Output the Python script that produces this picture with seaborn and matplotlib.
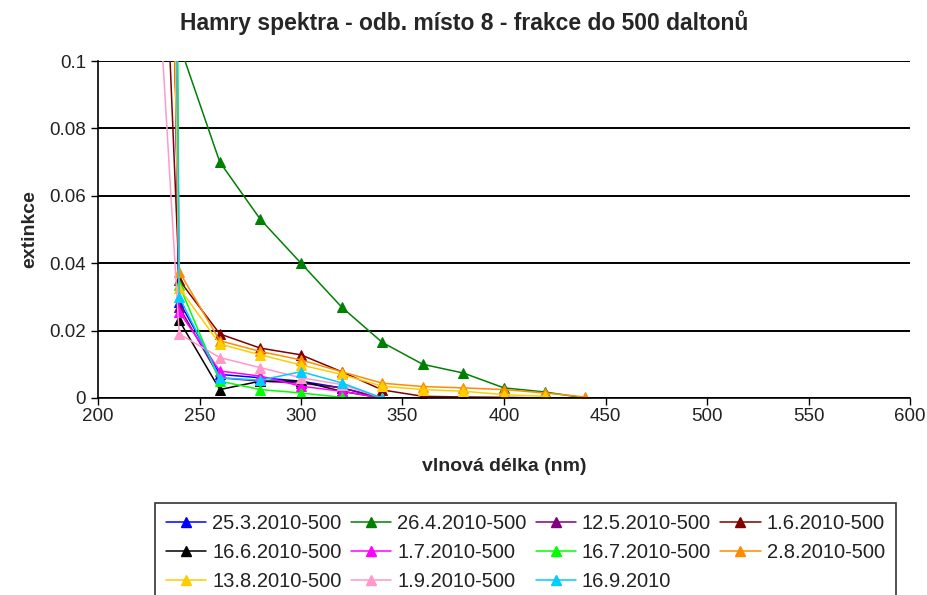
import numpy as np
import pandas as pd
import matplotlib
matplotlib.use('Agg')
import matplotlib.pyplot as plt
import seaborn as sns
from matplotlib.ticker import FuncFormatter, MultipleLocator

sns.set_theme(style="white")
plt.rcParams['font.family'] = ['Liberation Sans', 'DejaVu Sans']

# wavelength grid (nm); each series uses its first len(values) points
wavelengths = [230, 240, 260, 280, 300, 320, 340, 360, 380, 400, 420, 440]

labels = ["25.3.2010-500", "26.4.2010-500", "12.5.2010-500", "1.6.2010-500",
          "16.6.2010-500", "1.7.2010-500", "16.7.2010-500", "2.8.2010-500",
          "13.8.2010-500", "1.9.2010-500", "16.9.2010"]
colors = ["#0000FF", "#008000", "#800080", "#800000", "#000000", "#FF00FF",
          "#00FF00", "#FF8C00", "#FFCC00", "#FF99CC", "#00CCFF"]

s_25_3 = [0.40, 0.0286, 0.007, 0.006, 0.005, 0.003, 0.0]
s_26_4 = [0.50, 0.105, 0.070, 0.053, 0.040, 0.027, 0.0165, 0.010, 0.0074, 0.003, 0.0018, 0.0]
s_12_5 = [0.40, 0.027, 0.006, 0.005, 0.0044, 0.003, 0.0]
s_1_6 = [0.18, 0.035, 0.019, 0.0148, 0.0128, 0.0078, 0.0024, 0.0005, 0.0003, 0.0002, 0.0]
s_16_6 = [0.41, 0.023, 0.0025, 0.005, 0.005, 0.002, 0.0]
s_1_7 = [0.40, 0.0256, 0.008, 0.0065, 0.0035, 0.002, 0.0]
s_16_7 = [1.00, 0.0335, 0.005, 0.0025, 0.0015, 0.0002, 0.0]
s_2_8 = [0.60, 0.0375, 0.017, 0.0138, 0.0113, 0.0078, 0.0044, 0.0034, 0.003, 0.0025, 0.0015, 0.0003]
s_13_8 = [0.37, 0.0327, 0.016, 0.0128, 0.0098, 0.007, 0.0035, 0.0025, 0.002, 0.001, 0.0005]
s_1_9 = [0.12, 0.019, 0.012, 0.009, 0.006, 0.004, 0.0]
s_16_9 = [0.73, 0.030, 0.006, 0.0053, 0.0078, 0.0045, 0.0]

series = [s_25_3, s_26_4, s_12_5, s_1_6, s_16_6, s_1_7, s_16_7, s_2_8, s_13_8, s_1_9, s_16_9]

rows = []
for lab, vals in zip(labels, series):
    for wl, v in zip(wavelengths, vals):
        rows.append({"wl": wl, "ext": v, "serie": lab})
df = pd.DataFrame(rows)

fig = plt.figure(figsize=(9.28, 5.95), dpi=100)
ax = fig.add_axes([98 / 928, 1 - 398 / 595, (910 - 98) / 928, (398 - 61) / 595])

sns.lineplot(data=df, x="wl", y="ext", hue="serie", hue_order=labels,
             palette=colors, marker="^", markersize=7, linewidth=1.1,
             estimator=None, sort=False, ax=ax, legend=False)
for line in ax.lines:
    line.set_markeredgecolor(line.get_color())

ax.set_xlim(200, 600)
ax.set_ylim(0, 0.1)
ax.xaxis.set_major_locator(MultipleLocator(50))
ax.yaxis.set_major_locator(MultipleLocator(0.02))
ax.yaxis.set_major_formatter(FuncFormatter(lambda v, p: f"{v:g}" if abs(v) > 1e-9 else "0"))
ax.grid(axis='y', color='black', linewidth=1.4)
ax.grid(axis='x', visible=False)
for side in ['top', 'right']:
    ax.spines[side].set_visible(False)
for side in ['left', 'bottom']:
    ax.spines[side].set_color('black')
    ax.spines[side].set_linewidth(1.2)
ax.tick_params(axis='both', direction='out', length=5, width=1, color='black',
               labelsize=13.5, labelcolor='#222222', bottom=True, left=True)
ax.tick_params(axis='x', pad=2)

ax.set_xlabel("vlnová délka (nm)", fontsize=14, fontweight='bold', labelpad=24)
ax.set_ylabel("extinkce", fontsize=14, fontweight='bold', labelpad=8)
fig.text(0.5, 1 - 23 / 595, "Hamry spektra - odb. místo 8 - frakce do 500 daltonů",
         fontsize=16.5, fontweight='bold', ha='center', va='center')

# legend filled row by row like the original (4 columns)
handles = [plt.Line2D([], [], color=c, marker="^", markersize=7, mec=c, linewidth=1.1)
           for c in colors]
order = [0, 4, 8, 1, 5, 9, 2, 6, 10, 3, 7]
leg = fig.legend([handles[i] for i in order], [labels[i] for i in order],
                 ncol=4, loc='upper left', bbox_to_anchor=(155 / 928, 1 - 503 / 595),
                 fontsize=14.5, frameon=True, fancybox=False, edgecolor='black',
                 handlelength=2.0, handletextpad=0.3, columnspacing=0.45,
                 labelspacing=0.5, borderpad=0.55, borderaxespad=0)
leg.get_frame().set_linewidth(1.2)
for t in leg.get_texts():
    t.set_color('#222222')

fig.savefig("out.png", dpi=100)
